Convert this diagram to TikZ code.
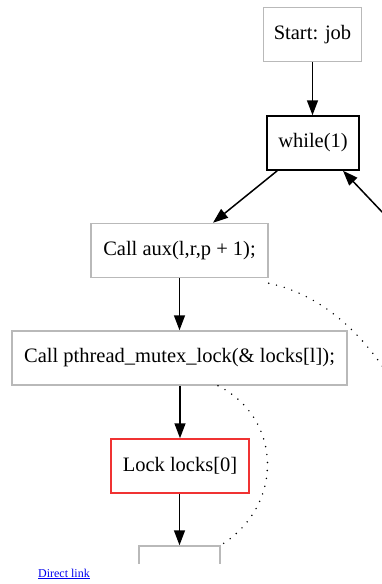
\documentclass[tikz,border=0pt]{standalone}
\usepackage{fontspec}
\setmainfont{Liberation Serif}
\usepackage{xcolor}
\usetikzlibrary{arrows.meta,calc,positioning}
\definecolor{boxgray}{RGB}{185,185,185}
\definecolor{lockred}{RGB}{240,50,50}
\definecolor{linkblue}{RGB}{0,0,238}

\begin{document}
\begin{tikzpicture}[x=1pt,y=-1pt]
			\tikzstyle{every node}=[font=\fontsize{20.5}{24}\selectfont]
			\tikzstyle{stmt}=[draw=boxgray, line width=1.5pt, fill=white, inner sep=0pt, minimum height=54pt]
			\tikzstyle{edge}=[line width=1.5pt, -{Triangle[length=15pt,width=11pt]}]
			\tikzstyle{dotedge}=[line width=1.6pt, line cap=round, dash pattern=on 0pt off 8pt]
			\fill [white] (0,0) rectangle (382,584);
			\useasboundingbox (0,0) rectangle (382,584);
			\begin{scope}
				\clip (0,0) rectangle (382,563);
				\node [stmt, minimum width=98pt] (start) at (312.5,34.5) {Start: job};
				\node [stmt, draw=black, minimum width=92pt] (loop) at (313,143) {while(1)};
				\node [stmt, minimum width=177pt] (callaux) at (179.5,250.5) {Call aux(l,r,p + 1);};
				\node [stmt, minimum width=335pt] (mutexlock) at (179.5,358) {Call pthread\_mutex\_lock(\& locks[l]);};
				\node [stmt, draw=lockred, minimum width=138pt] (lockzero) at (180,466) {Lock locks[0]};
				\node [stmt, minimum width=81pt] (nextbox) at (179.5,573) {};
				\coordinate (backin) at (402,233);
				\coordinate (awayout) at (398,392);
				\draw [edge] (start.south) -- (start.south |- loop.north);
				\draw [edge] ([xshift=11pt]loop.south west) -- ([xshift=33.5pt]callaux.north);
				\draw [edge] (backin) -- ([xshift=30pt]loop.south);
				\draw [edge] (callaux) -- (mutexlock);
				\draw [edge] (mutexlock.south -| lockzero) -- (lockzero);
				\draw [edge] (lockzero.south -| nextbox) -- (nextbox);
				\draw [dotedge] ([yshift=-5pt]callaux.south east) .. controls (325,295) and (370,340) .. (awayout);
				\draw [dotedge] ([xshift=38.5pt]mutexlock.south) .. controls (282,418) and (285,505) .. (nextbox.north east);
			\end{scope}
			\node [font=\fontsize{12}{14}\selectfont, text=linkblue, inner sep=0pt] (link) at (64,574) {\underline{Direct link}};
		\end{tikzpicture}
\end{document}
